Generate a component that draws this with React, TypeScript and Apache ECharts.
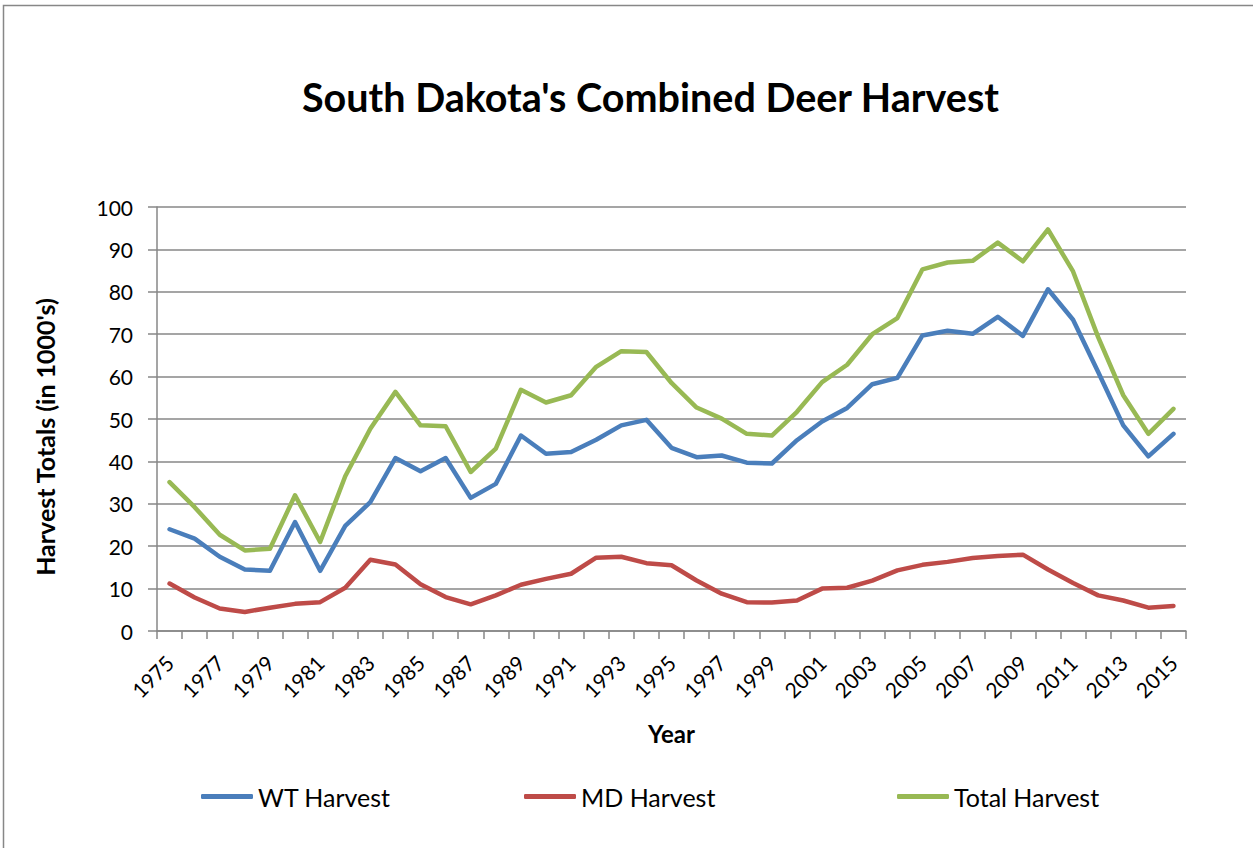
import React, { useEffect, useRef } from "react";
import * as echarts from "echarts";

const years: string[] = [];
for (let y = 1975; y <= 2015; y++) years.push(String(y));

const wtHarvest = [
  24.0, 21.8, 17.5, 14.5, 14.2, 25.7, 14.2, 24.8, 30.4, 40.8,
  37.7, 40.8, 31.4, 34.7, 46.1, 41.8, 42.2, 45.1, 48.5, 49.8,
  43.2, 41.0, 41.4, 39.7, 39.5, 45.0, 49.4, 52.6, 58.2, 59.7,
  69.7, 70.8, 70.1, 74.1, 69.6, 80.6, 73.4, 61.1, 48.5, 41.2, 46.5,
];
const mdHarvest = [
  11.2, 7.9, 5.3, 4.5, 5.5, 6.4, 6.8, 10.2, 16.8, 15.7,
  11.0, 8.0, 6.3, 8.4, 10.9, 12.3, 13.5, 17.3, 17.5, 16.0,
  15.5, 11.9, 8.8, 6.8, 6.7, 7.2, 10.0, 10.2, 11.9, 14.3,
  15.6, 16.3, 17.2, 17.7, 18.0, 14.5, 11.3, 8.4, 7.2, 5.5, 5.9,
];
const totalHarvest = [
  35.1, 29.2, 22.7, 19.0, 19.4, 32.0, 21.0, 36.5, 47.7, 56.4,
  48.5, 48.3, 37.5, 43.0, 56.9, 53.9, 55.6, 62.3, 66.0, 65.8,
  58.5, 52.7, 50.1, 46.5, 46.1, 51.7, 58.7, 62.8, 70.0, 73.8,
  85.3, 86.9, 87.3, 91.6, 87.2, 94.7, 84.8, 69.3, 55.6, 46.5, 52.4,
];

const FONT = "Lato";
const GRID_COLOR = "#878787";

export default function App() {
  const ref = useRef<HTMLDivElement>(null);
  useEffect(() => {
    if (!ref.current) return;
    const chart = echarts.init(ref.current, null, { renderer: "svg" });
    const mkSeries = (name: string, data: number[], color: string) => ({
      name,
      type: "line",
      data,
      symbol: "none",
      lineStyle: { color, width: 4.5, cap: "round", join: "round" },
      itemStyle: { color },
    });
    const legendCommon = {
      top: 779,
      itemWidth: 52,
      itemHeight: 5,
      itemGap: 4,
      textStyle: { fontFamily: FONT, fontSize: 25, color: "#000" },
      icon: "roundRect",
    };
    chart.setOption({
      animation: false,
      backgroundColor: "#fff",
      textStyle: { fontFamily: FONT },
      title: {
        text: "South Dakota's Combined Deer Harvest",
        left: 297,
        top: 71,
        textStyle: { fontFamily: FONT, fontSize: 39.5, fontWeight: "bold", color: "#000" },
      },
      legend: [
        { ...legendCommon, left: 196, data: ["WT Harvest"] },
        { ...legendCommon, left: 519, data: ["MD Harvest"] },
        { ...legendCommon, left: 892, data: ["Total Harvest"] },
      ],
      grid: { left: 157, right: 67, top: 207, bottom: 217, containLabel: false },
      xAxis: {
        type: "category",
        data: years,
        boundaryGap: true,
        name: "Year",
        nameLocation: "middle",
        nameGap: 90,
        nameTextStyle: { fontFamily: FONT, fontSize: 24, fontWeight: "bold", color: "#000" },
        axisLine: { lineStyle: { color: GRID_COLOR, width: 1.5 } },
        axisTick: { show: true, interval: 0, length: 8, lineStyle: { color: GRID_COLOR, width: 1.5 } },
        axisLabel: { interval: 1, rotate: 45, fontFamily: FONT, fontSize: 21, color: "#000", margin: 28 },
        splitLine: { show: false },
      },
      yAxis: {
        type: "value",
        min: 0,
        max: 100,
        interval: 10,
        name: "Harvest Totals (in 1000's)",
        nameLocation: "middle",
        nameGap: 100,
        nameTextStyle: { fontFamily: FONT, fontSize: 25, fontWeight: "bold", color: "#000", padding: [0, 0, 0, -36] },
        axisLine: { show: true, lineStyle: { color: GRID_COLOR, width: 1.5 } },
        axisTick: { show: true, length: 9, lineStyle: { color: GRID_COLOR, width: 1.5 } },
        axisLabel: { fontFamily: FONT, fontSize: 21, color: "#000", margin: 24 },
        splitLine: { show: true, lineStyle: { color: GRID_COLOR, width: 1.5 } },
      },
      graphic: [
        {
          type: "rect",
          shape: { x: 3.5, y: 5.5, width: 1300, height: 900 },
          style: { fill: "none", stroke: GRID_COLOR, lineWidth: 1.5 },
          silent: true,
        },
      ],
      series: [
        mkSeries("WT Harvest", wtHarvest, "#4A7EBB"),
        mkSeries("MD Harvest", mdHarvest, "#BE4B48"),
        mkSeries("Total Harvest", totalHarvest, "#98B954"),
      ],
    });
    return () => chart.dispose();
  }, []);
  return (
    <div
      ref={ref}
      style={{ position: "absolute", left: 0, top: 0, width: 1253, height: 848, background: "#fff" }}
    />
  );
}
